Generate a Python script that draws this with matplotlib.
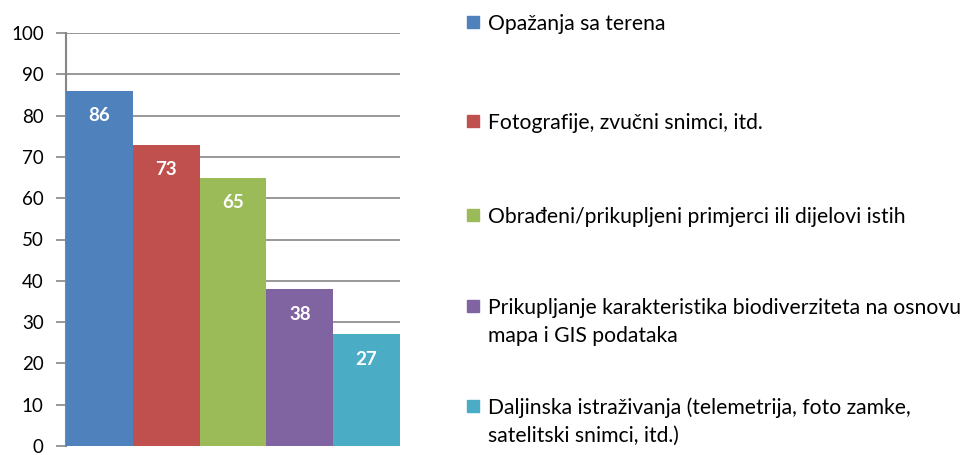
import matplotlib
matplotlib.use("Agg")
import matplotlib.pyplot as plt
from matplotlib.patches import Rectangle

categories = [
    "Opažanja sa terena",
    "Fotografije, zvučni snimci, itd.",
    "Obrađeni/prikupljeni primjerci ili dijelovi istih",
    "Prikupljanje karakteristika biodiverziteta na osnovu\nmapa i GIS podataka",
    "Daljinska istraživanja (telemetrija, foto zamke,\nsatelitski snimci, itd.)",
]
values = [86, 73, 65, 38, 27]
colors = ["#4F81BD", "#C0504D", "#9BBB59", "#8064A2", "#4BACC6"]
yticks = [0, 10, 20, 30, 40, 50, 60, 70, 80, 90, 100]

plt.rcParams['font.family'] = ['Lato', 'DejaVu Sans']

W, H = 975, 455
fig = plt.figure(figsize=(W / 100, H / 100), dpi=100)
ax = fig.add_axes([66 / W, 1 - 446 / H, (400 - 66) / W, (446 - 33) / H])

x = list(range(len(values)))
bars = ax.bar(x, values, width=1.0, color=colors, zorder=3)
ax.set_xlim(-0.5, len(values) - 0.5)
ax.set_ylim(0, 100)
ax.set_yticks(yticks)
ax.set_yticklabels([str(t) for t in yticks], fontsize=13.5)
ax.set_xticks([])
ax.yaxis.grid(True, color="#868686", linewidth=1.2, zorder=0)
for s in ["top", "right", "bottom"]:
    ax.spines[s].set_visible(False)
ax.spines["left"].set_color("#868686")
ax.spines["left"].set_linewidth(1.5)
ax.tick_params(axis="y", length=7, width=1.2, color="#868686", pad=9, labelcolor="black")

for b, v in zip(bars, values):
    ax.annotate(str(v), (b.get_x() + b.get_width() / 2, v), xytext=(0, -18),
                textcoords="offset points", ha="center", va="center",
                color="white", fontweight="bold", fontsize=13.5, zorder=4)

baselines = [30, 129, 223, 314, 414]
line_step = 28
for cat, col, yb in zip(categories, colors, baselines):
    fig.patches.append(Rectangle((467 / W, 1 - (yb - 2) / H), 12 / W, 12 / H,
                                 transform=fig.transFigure, color=col, figure=fig))
    for i, line in enumerate(cat.split("\n")):
        fig.text(488 / W, 1 - (yb + i * line_step) / H, line, fontsize=15.2,
                 va="baseline", ha="left")

fig.savefig("out.png", dpi=100)
